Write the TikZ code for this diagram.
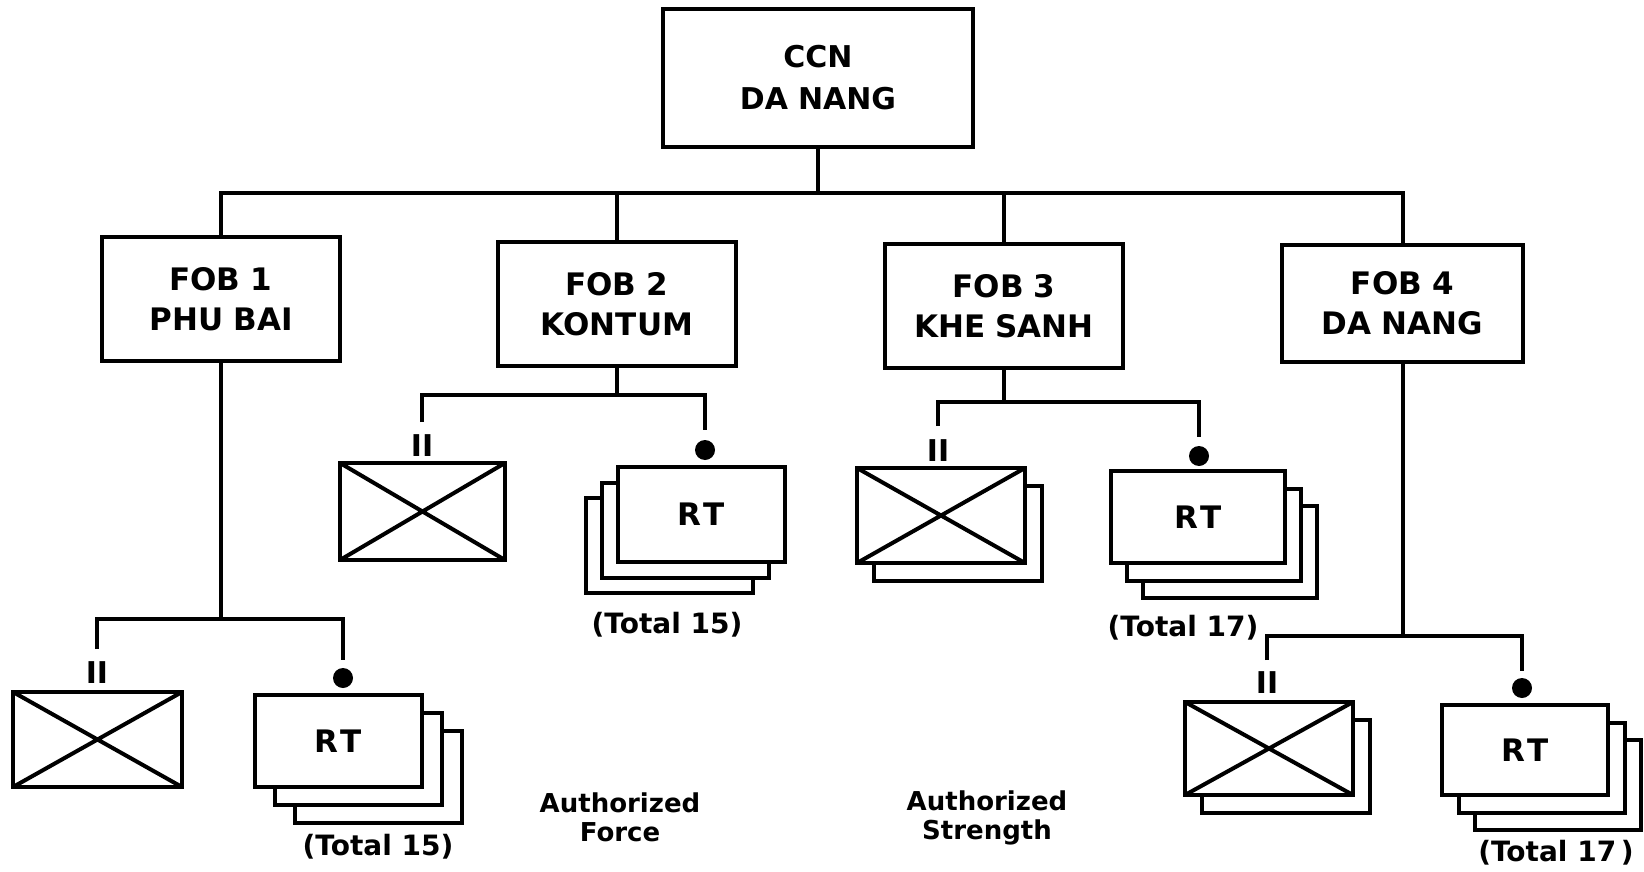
\documentclass[tikz,border=0pt]{standalone}
\usepackage{fontspec}
\setmainfont{DejaVu Sans}
\begin{document}
\begin{tikzpicture}[x=1pt,y=-1pt,line width=4pt,
  unit/.style={draw,rectangle,fill=white,inner sep=0pt,align=center},
  hq/.style={unit,minimum width=310pt,minimum height=138pt,
    font=\bfseries\fontsize{30}{42}\selectfont},
  fob/.style={unit,minimum width=238pt,minimum height=124pt,
    font=\bfseries\fontsize{31}{40}\selectfont},
  bnback/.style={unit,minimum width=168pt,minimum height=95pt},
  bn/.style={bnback,
    path picture={\draw[line width=4pt]
      (path picture bounding box.north west) -- (path picture bounding box.south east)
      (path picture bounding box.south west) -- (path picture bounding box.north east);}},
  team/.style={unit,minimum width=167pt,minimum height=92pt,
    font=\bfseries\fontsize{31}{36}\selectfont},
  echelon/.style={inner sep=0pt,font=\bfseries\fontsize{30}{30}\selectfont},
  teamdot/.style={circle,fill,inner sep=0pt,minimum size=20pt},
  total/.style={inner sep=0pt,font=\bfseries\fontsize{28}{32}\selectfont},
  note/.style={inner sep=0pt,align=center,font=\bfseries\fontsize{26}{29}\selectfont}
]
\useasboundingbox (0,0) rectangle (1644,872);

% headquarters and forward operating bases
\node[hq] (ccn) at (818,78) {CCN\\DA\,\,NANG};
\node[fob] (fob1) at (221,299) {FOB\,\,1\\PHU\,\,BAI};
\node[fob] (fob2) at (617,304) {FOB\,\,2\\KONTUM};
\node[fob] (fob3) at (1004,306) {FOB\,\,3\\KHE\,\,SANH};
\node[fob,minimum width=241pt,minimum height=117pt] (fob4) at (1402.5,303.5) {FOB\,\,4\\DA\,\,NANG};

\coordinate (bus) at (0,193);
\draw (ccn.south) -- (ccn.south |- bus);
\draw (fob1.north) -- (fob1.north |- bus) -- (fob4.north |- bus) -- (fob4.north);
\draw (fob2.north) -- (fob2.north |- bus);
\draw (fob3.north) -- (fob3.north |- bus);

% FOB 1
\node[bn,minimum width=169pt] (bn1) at (97.5,739.5) {};
\node[echelon] (ii1) at (97,673) {II};
\node[team] (rt1c) at (378.5,777) {};
\node[team] (rt1b) at (358.5,759) {};
\node[team] (rt1) at (338.5,741) {R\kern2pt T};
\node[teamdot] (dot1) at (343,678) {};
\node[total] (tot1) at (378,847) {(Total 15)};
\coordinate (j1) at (fob1.south |- 0,619);
\draw (fob1.south) -- (j1);
\draw ([yshift=11pt]ii1.north) |- (j1) -| ([yshift=6pt]dot1.north);

% FOB 2
\node[bn,minimum width=165pt,minimum height=97pt] (bn2) at (422.5,511.5) {};
\node[echelon] (ii2) at (422,446) {II};
\node[team,minimum height=95pt] (rt2c) at (669.5,545.5) {};
\node[team,minimum height=95pt] (rt2b) at (685.5,530.5) {};
\node[team,minimum height=95pt] (rt2) at (701.5,514.5) {R\kern2pt T};
\node[teamdot] (dot2) at (705,450) {};
\node[total] (tot2) at (667,625) {(Total 15)};
\coordinate (j2) at (fob2.south |- 0,395);
\draw (fob2.south) -- (j2);
\draw ([yshift=11pt]ii2.north) |- (j2) -| ([yshift=8pt]dot2.north);

% FOB 3
\node[bnback] (bn3b) at (958,533.5) {};
\node[bn] (bn3) at (941,515.5) {};
\node[echelon] (ii3) at (938,451) {II};
\node[team,minimum width=174pt] (rt3c) at (1230,552) {};
\node[team,minimum width=174pt] (rt3b) at (1214,535) {};
\node[team,minimum width=174pt] (rt3) at (1198,517) {R\kern2pt T};
\node[teamdot] (dot3) at (1199,456) {};
\node[total] (tot3) at (1183,628) {(Total 17)};
\coordinate (j3) at (fob3.south |- 0,402);
\draw (fob3.south) -- (j3);
\draw ([yshift=12pt]ii3.north) |- (j3) -| ([yshift=7pt]dot3.north);

% FOB 4
\node[bnback,minimum height=93pt] (bn4b) at (1286,766.5) {};
\node[bn,minimum height=93pt] (bn4) at (1269,748.5) {};
\node[echelon] (ii4) at (1267,683) {II};
\node[team,minimum width=166pt,minimum height=90pt] (rt4c) at (1558,785) {};
\node[team,minimum width=166pt,minimum height=90pt] (rt4b) at (1542,768) {};
\node[team,minimum width=166pt,minimum height=90pt] (rt4) at (1525,750) {R\kern2pt T};
\node[teamdot] (dot4) at (1522,688) {};
\node[total] (tot4) at (1556,853) {(Total 17\,)};
\coordinate (j4) at (fob4.south |- 0,636);
\draw (fob4.south) -- (j4);
\draw ([yshift=10pt]ii4.north) |- (j4) -| ([yshift=5pt]dot4.north);

% captions
\node[note] (force) at (620,817) {Authorized\\Force};
\node[note] (strength) at (987,818) {Authorized\\Strength};
\end{tikzpicture}
\end{document}
